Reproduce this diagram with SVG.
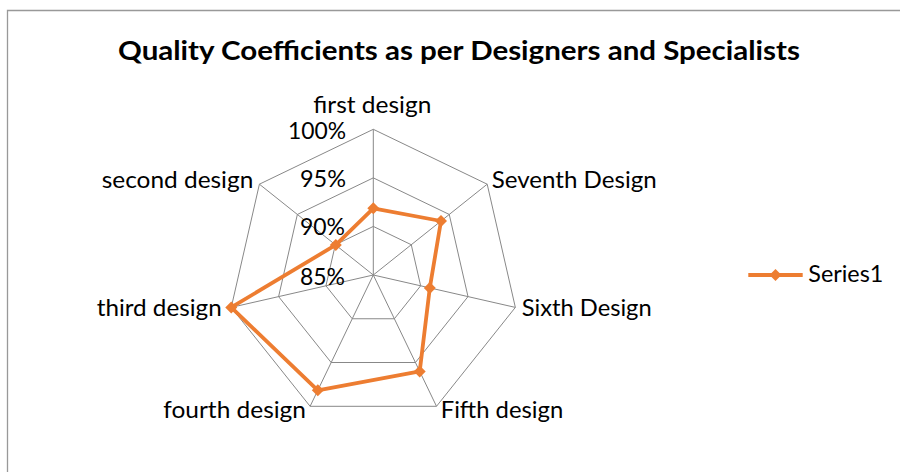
<svg xmlns="http://www.w3.org/2000/svg" width="900" height="472" viewBox="0 0 900 472">
<style>
.bg{fill:#ffffff}
.frame{fill:none;stroke:#999999;stroke-width:1.3}
.grid{fill:none;stroke:#888888;stroke-width:1}
.title{font-family:Lato,"Liberation Sans",sans-serif;font-size:26px;font-weight:bold;fill:#000000}
.lbl{font-family:Lato,"Liberation Sans",sans-serif;font-size:24px;fill:#000000}
.tick{font-family:Lato,"Liberation Sans",sans-serif;font-size:24px;fill:#000000}
.series{fill:none;stroke:#ED7D31;stroke-width:3.8;stroke-linejoin:round}
.mk{fill:#ED7D31}
</style>
<defs>
<path id="dia" d="M0,-6 L6,0 L0,6 L-6,0 Z"/>
</defs>
<rect class="bg" x="0" y="0" width="900" height="472"/>
<path class="frame" d="M7.5,472 L7.5,10.5 L900,10.5"/>
<text class="title" x="118" y="60" textLength="682" lengthAdjust="spacingAndGlyphs">Quality Coefficients as per Designers and Specialists</text>
<g id="grid">
<polygon class="grid" points="373.3,129.3 487.2,184.2 515.35,307.4 436.5,406.3 310.1,406.3 231.25,307.4 259.4,184.2"/>
<polygon class="grid" points="373.3,177.87 449.24,214.44 468.0,296.61 415.44,362.51 331.16,362.51 278.6,296.61 297.36,214.44"/>
<polygon class="grid" points="373.3,226.43 411.27,244.72 420.65,285.81 394.37,318.76 352.23,318.76 325.95,285.81 335.33,244.72"/>
<path class="grid" d="M373.3,275 L373.3,129.3 M373.3,275 L487.2,184.2 M373.3,275 L515.35,307.4 M373.3,275 L436.5,406.3 M373.3,275 L310.1,406.3 M373.3,275 L231.25,307.4 M373.3,275 L259.4,184.2"/>
</g>
<g id="ticks">
<text class="tick" x="288" y="139" textLength="58" lengthAdjust="spacingAndGlyphs">100%</text>
<text class="tick" x="300" y="187" textLength="46" lengthAdjust="spacingAndGlyphs">95%</text>
<text class="tick" x="300" y="235" textLength="45" lengthAdjust="spacingAndGlyphs">90%</text>
<text class="tick" x="300" y="285" textLength="45" lengthAdjust="spacingAndGlyphs">85%</text>
</g>
<g id="axis-labels">
<text class="lbl" id="first" x="313.3" y="113.3" textLength="118" lengthAdjust="spacingAndGlyphs">first design</text>
<text class="lbl" id="seventh" x="491.7" y="188.3" textLength="165" lengthAdjust="spacingAndGlyphs">Seventh Design</text>
<text class="lbl" id="sixth" x="521.7" y="316" textLength="130" lengthAdjust="spacingAndGlyphs">Sixth Design</text>
<text class="lbl" id="fifth" x="440.7" y="418.3" textLength="122.6" lengthAdjust="spacingAndGlyphs">Fifth design</text>
<text class="lbl" id="fourth" x="163.3" y="418.3" textLength="142.7" lengthAdjust="spacingAndGlyphs">fourth design</text>
<text class="lbl" id="third" x="96.7" y="316" textLength="125" lengthAdjust="spacingAndGlyphs">third design</text>
<text class="lbl" id="second" x="101.7" y="188.3" textLength="151.6" lengthAdjust="spacingAndGlyphs">second design</text>
</g>
<g id="series1">
<polygon class="series" points="373.3,208.3 441.0,221.0 429.8,287.9 419.7,371.4 317.8,390.3 231.25,307.4 335.8,244.9"/>
<use href="#dia" class="mk" x="373.3" y="208.3"/>
<use href="#dia" class="mk" x="441.0" y="221.0"/>
<use href="#dia" class="mk" x="429.8" y="287.9"/>
<use href="#dia" class="mk" x="419.7" y="371.4"/>
<use href="#dia" class="mk" x="317.8" y="390.3"/>
<use href="#dia" class="mk" x="231.25" y="307.4"/>
<use href="#dia" class="mk" x="335.8" y="244.9"/>
</g>
<g id="legend">
<line x1="748.3" y1="275" x2="802.7" y2="275" stroke="#ED7D31" stroke-width="3.8"/>
<use href="#dia" class="mk" x="775.5" y="275"/>
<text class="lbl" x="808.3" y="282.3" textLength="75" lengthAdjust="spacingAndGlyphs">Series1</text>
</g>
</svg>
